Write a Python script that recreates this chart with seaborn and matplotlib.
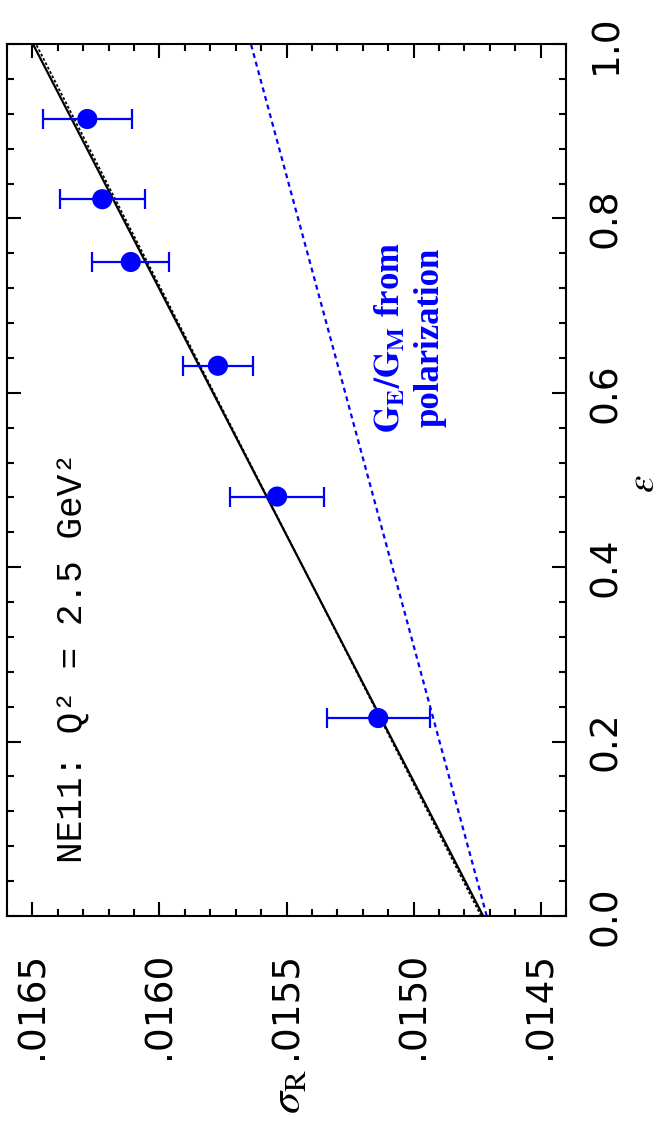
import numpy as np
import pandas as pd
import matplotlib
matplotlib.use("Agg")
import matplotlib.pyplot as plt
import seaborn as sns
from matplotlib.ticker import FixedLocator, MultipleLocator

# ---- data ----
eps = [0.227, 0.481, 0.631, 0.750, 0.822, 0.914]
sigma_r = [0.015139, 0.015537, 0.015770, 0.016113, 0.016225, 0.016284]
sigma_err = [0.000203, 0.000185, 0.000138, 0.000152, 0.000168, 0.000176]

eps_line = [0.0, 1.0]
fit_solid = [0.014726, 0.016498]
fit_dotted = [0.014734, 0.016486]
pol_line = [0.014712, 0.015640]

sigma_ticks = [0.0145, 0.0150, 0.0155, 0.0160, 0.0165]
sigma_ticklabels = [".0145", ".0150", ".0155", ".0160", ".0165"]
eps_ticks = [0.0, 0.2, 0.4, 0.6, 0.8, 1.0]
eps_ticklabels = ["0.0", "0.2", "0.4", "0.6", "0.8", "1.0"]

sns.set_theme(style="ticks")
plt.rcParams["font.family"] = ["DejaVu Sans"]
plt.rcParams["mathtext.fontset"] = "stix"
plt.rcParams["text.color"] = "black"
plt.rcParams["xtick.color"] = "black"
plt.rcParams["ytick.color"] = "black"
plt.rcParams["xtick.labelcolor"] = "black"
plt.rcParams["ytick.labelcolor"] = "black"

W, H = 666, 1129
fig = plt.figure(figsize=(W / 100, H / 100), dpi=100)
L, R, T, B = 7, 566, 44, 916
ax = fig.add_axes([L / W, 1 - B / H, (R - L) / W, (B - T) / H])

pts = pd.DataFrame({"eps": eps, "sigma": sigma_r, "err": sigma_err})
lines = pd.DataFrame({"eps": eps_line, "solid": fit_solid,
                      "dotted": fit_dotted, "pol": pol_line})

sns.lineplot(data=lines, x="pol", y="eps", sort=False, estimator=None,
             color="blue", lw=1.6, ls=(0, (2.2, 1.8)), ax=ax)
sns.lineplot(data=lines, x="dotted", y="eps", sort=False, estimator=None,
             color="black", lw=1.3, ls=(0, (1.5, 1.2)), ax=ax)
sns.lineplot(data=lines, x="solid", y="eps", sort=False, estimator=None,
             color="black", lw=1.6, ax=ax)

ax.errorbar(pts["sigma"], pts["eps"], xerr=pts["err"], fmt="none",
            ecolor="blue", elinewidth=1.6, capsize=7.5, capthick=1.6, zorder=3)
sns.scatterplot(data=pts, x="sigma", y="eps", color="blue", s=210,
                edgecolor="none", linewidth=0, zorder=4, ax=ax)

ax.set_xlim(0.0166, 0.0144)
ax.set_ylim(0.0, 1.0)
ax.xaxis.set_major_locator(FixedLocator(sigma_ticks))
ax.xaxis.set_minor_locator(MultipleLocator(0.0001))
ax.yaxis.set_major_locator(FixedLocator(eps_ticks))
ax.yaxis.set_minor_locator(MultipleLocator(0.04))
ax.set_xticklabels(sigma_ticklabels, rotation=90)
ax.set_yticklabels(eps_ticklabels, rotation=90, va="center")

ax.tick_params(which="both", direction="in", top=True, right=True,
               left=True, bottom=True, labelleft=False, labelright=True,
               labelbottom=True, width=1.5, color="black",
               labelcolor="black")
ax.tick_params(which="major", length=10)
ax.tick_params(which="minor", length=5)
ax.tick_params(axis="x", which="major", labelsize=27, pad=26)
ax.tick_params(axis="y", which="major", labelsize=27, pad=16)
for s in ax.spines.values():
    s.set_linewidth(1.5)
    s.set_color("black")
ax.set_xlabel("")
ax.set_ylabel("")

# axis titles
fig.text(288 / W, 1 - 1092 / H, r"$\sigma_{\rm R}$", rotation=90,
         ha="center", va="center", fontsize=32, color="black")
fig.text(643 / W, 1 - 484 / H, r"$\varepsilon$", rotation=90,
         ha="center", va="center", fontsize=28, color="black")

# annotations
ax.text(0.016301, 0.061, "NE11: Q² = 2.5 GeV²", rotation=90,
        rotation_mode="anchor", ha="left", va="baseline",
        family=["Liberation Mono", "DejaVu Sans Mono"], fontsize=26,
        color="black")
ax.text(0.015014, 0.663, r"$\mathbf{G_E/G_M}$ from" + "\npolarization",
        rotation=90, ha="center", va="center", multialignment="center",
        family="Liberation Serif", fontweight="bold", fontsize=25,
        color="blue", linespacing=1.2)

fig.savefig("out.png", dpi=100)
